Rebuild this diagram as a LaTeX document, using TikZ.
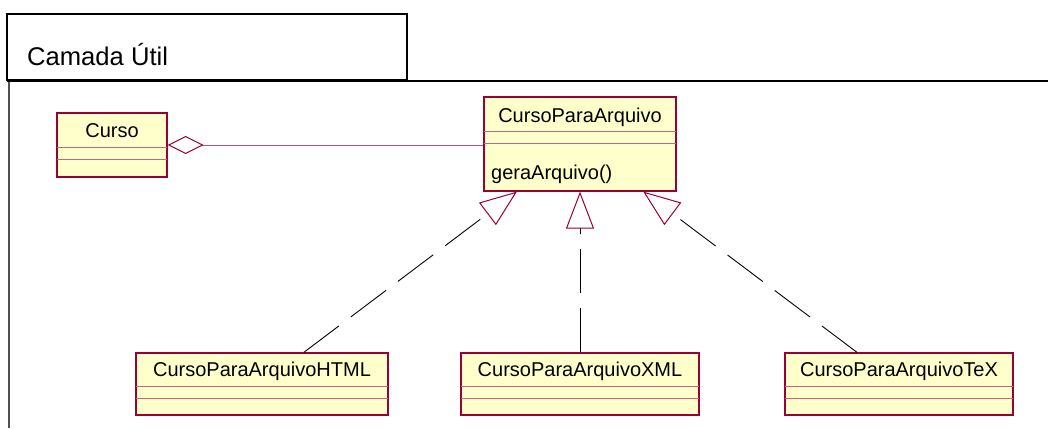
\documentclass[tikz,border=0pt]{standalone}
\usepackage{fontspec}
\setmainfont{Liberation Sans}
\usetikzlibrary{arrows.meta,calc}
\definecolor{umlred}{RGB}{153,0,51}
\definecolor{umlpink}{RGB}{200,100,130}
\definecolor{umlfill}{RGB}{255,255,204}
\definecolor{framegray}{RGB}{80,80,80}
\tikzset{
  classbox/.style={draw=umlred, fill=umlfill, line width=1.2pt, inner sep=0pt, rectangle},
  classname/.style={anchor=base, inner sep=0pt, font=\fontsize{20}{24}\selectfont},
  opname/.style={anchor=base west, inner sep=0pt, font=\fontsize{20}{24}\selectfont},
  compline/.style={draw=umlpink, line width=1.1pt},
  realize/.style={draw=black, line width=0.9pt, dash pattern=on 44pt off 15pt,
    -{Triangle[open, length=37pt, width=28pt, color=umlred, line width=1pt]}},
  aggreg/.style={draw=umlpink!80!umlred, line width=1pt,
    {Diamond[open, length=36pt, width=18pt, color=umlred, line width=1pt]}-},
}
\begin{document}
\begin{tikzpicture}[x=1pt,y=-1pt]
\useasboundingbox (0,0) rectangle (1048,428);
% package frame
\draw[framegray, line width=1.3pt] (9,428) -- (9,81);
\draw[black, line width=1.5pt] (7,81) -- (1048,81);
\node[draw=black, line width=1.5pt, minimum width=400pt, minimum height=66pt, inner sep=0pt] (tab) at (207,47) {};
\node[anchor=base west, inner sep=0pt, font=\fontsize{25.6}{30}\selectfont] (tabname) at (27,65) {Camada Útil};

% classes
\node[classbox, minimum width=110pt, minimum height=64pt] (curso) at (112,145) {};
\node[classbox, minimum width=192pt, minimum height=94pt] (cpa) at (580,144) {};
\node[classbox, minimum width=252pt, minimum height=62pt] (html) at (262,384) {};
\node[classbox, minimum width=238pt, minimum height=62pt] (xml) at (580,384) {};
\node[classbox, minimum width=228pt, minimum height=62pt] (tex) at (899,384) {};

% compartments
\foreach \n/\a/\b in {curso/35/47, cpa/35/47, html/34/46, xml/34/46, tex/34/46}{
  \draw[compline] ($(\n.north west)+(0.6,\a)$) -- ($(\n.north east)+(-0.6,\a)$);
  \draw[compline] ($(\n.north west)+(0.6,\b)$) -- ($(\n.north east)+(-0.6,\b)$);
}
\draw[umlred, line width=1.2pt] (curso.north west) rectangle (curso.south east);
\draw[umlred, line width=1.2pt] (cpa.north west) rectangle (cpa.south east);
\draw[umlred, line width=1.2pt] (html.north west) rectangle (html.south east);
\draw[umlred, line width=1.2pt] (xml.north west) rectangle (xml.south east);
\draw[umlred, line width=1.2pt] (tex.north west) rectangle (tex.south east);

% names
\node[classname] (cursoname) at (112,137) {Curso};
\node[classname] (cpaname) at (580,122) {CursoParaArquivo};
\node[opname] (cpaop) at (491,179) {geraArquivo()};
\node[classname] (htmlname) at (262,376) {CursoParaArquivoHTML};
\node[classname] (xmlname) at (580,376) {CursoParaArquivoXML};
\node[classname] (texname) at (899,376) {CursoParaArquivoTeX};

% connectors
\draw[aggreg] (curso.east) -- (curso.east -| cpa.west);
\draw[realize] (html) -- (cpa);
\draw[realize] (xml) -- (cpa);
\draw[realize] (tex) -- (cpa);
\end{tikzpicture}
\end{document}
